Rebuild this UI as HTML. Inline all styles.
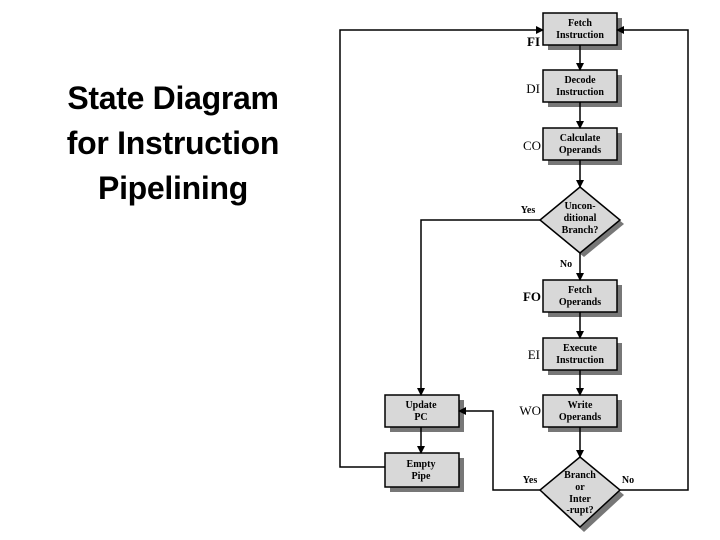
<!DOCTYPE html>
<html><head><meta charset="utf-8"><style>
body{margin:0;width:720px;height:540px;background:#fff;overflow:hidden;position:relative}
.t{position:absolute;left:20px;width:306px;top:76px;text-align:center;font:bold 32px/45px "Liberation Sans",sans-serif;color:#000;letter-spacing:-0.3px}
</style></head><body>
<div class="t">State Diagram<br>for Instruction<br>Pipelining</div>
<svg width="720" height="540" style="position:absolute;left:0;top:0" font-family="Liberation Serif,serif">
<defs><marker id="a" markerWidth="8" markerHeight="8" refX="7" refY="4" orient="auto" markerUnits="userSpaceOnUse"><path d="M0,0L8,4L0,8z" fill="#000"/></marker></defs>
<g fill="#777">
<rect x="548" y="18" width="74" height="32"/><rect x="548" y="75" width="74" height="32"/><rect x="548" y="133" width="74" height="32"/>
<rect x="548" y="285" width="74" height="32"/><rect x="548" y="343" width="74" height="32"/><rect x="548" y="400" width="74" height="32"/>
<rect x="390" y="400" width="74" height="32"/><rect x="390" y="458" width="74" height="34"/>
<path d="M584,191L624,224L584,257L544,224z"/><path d="M584,461L624,495L584,532L544,495z"/>
</g>
<g fill="#d8d8d8" stroke="#000" stroke-width="1.5">
<rect x="543" y="13" width="74" height="32"/><rect x="543" y="70" width="74" height="32"/><rect x="543" y="128" width="74" height="32"/>
<rect x="543" y="280" width="74" height="32"/><rect x="543" y="338" width="74" height="32"/><rect x="543" y="395" width="74" height="32"/>
<rect x="385" y="395" width="74" height="32"/><rect x="385" y="453" width="74" height="34"/>
<path d="M580,187L620,220L580,253L540,220z"/><path d="M580,457L620,490L580,527L540,490z"/>
</g>
<g stroke="#000" stroke-width="1.5" fill="none">
<line x1="580" y1="45" x2="580" y2="70" marker-end="url(#a)"/>
<line x1="580" y1="102" x2="580" y2="128" marker-end="url(#a)"/>
<line x1="580" y1="160" x2="580" y2="187" marker-end="url(#a)"/>
<line x1="580" y1="253" x2="580" y2="280" marker-end="url(#a)"/>
<line x1="580" y1="312" x2="580" y2="338" marker-end="url(#a)"/>
<line x1="580" y1="370" x2="580" y2="395" marker-end="url(#a)"/>
<line x1="580" y1="427" x2="580" y2="457" marker-end="url(#a)"/>
<path d="M540,220H421V395" marker-end="url(#a)"/>
<line x1="421" y1="427" x2="421" y2="453" marker-end="url(#a)"/>
<path d="M385,467H340V30H543" marker-end="url(#a)"/>
<path d="M540,490H493V411H459" marker-end="url(#a)"/>
<path d="M620,490H688V30H617" marker-end="url(#a)"/>
</g>
<g font-size="10" text-anchor="middle" fill="#000" font-weight="bold">
<text x="580" y="26">Fetch</text><text x="580" y="38">Instruction</text>
<text x="580" y="83">Decode</text><text x="580" y="95">Instruction</text>
<text x="580" y="141">Calculate</text><text x="580" y="153">Operands</text>
<text x="580" y="209">Uncon-</text><text x="580" y="221">ditional</text><text x="580" y="233">Branch?</text>
<text x="580" y="293">Fetch</text><text x="580" y="305">Operands</text>
<text x="580" y="351">Execute</text><text x="580" y="363">Instruction</text>
<text x="580" y="408">Write</text><text x="580" y="420">Operands</text>
<text x="421" y="408">Update</text><text x="421" y="420">PC</text>
<text x="421" y="467">Empty</text><text x="421" y="479">Pipe</text>
<text x="580" y="478">Branch</text><text x="580" y="490">or</text><text x="580" y="502">Inter</text><text x="580" y="513">-rupt?</text>
<text x="528" y="213">Yes</text><text x="566" y="267">No</text>
<text x="530" y="483">Yes</text><text x="628" y="483">No</text>
</g>
<g font-size="13" text-anchor="end" fill="#000">
<text x="540" y="46" font-weight="bold">FI</text>
<text x="540" y="93">DI</text>
<text x="541" y="150">CO</text>
<text x="541" y="301" font-weight="bold">FO</text>
<text x="540" y="359">EI</text>
<text x="541" y="415">WO</text>
</g>
</svg>
</body></html>
